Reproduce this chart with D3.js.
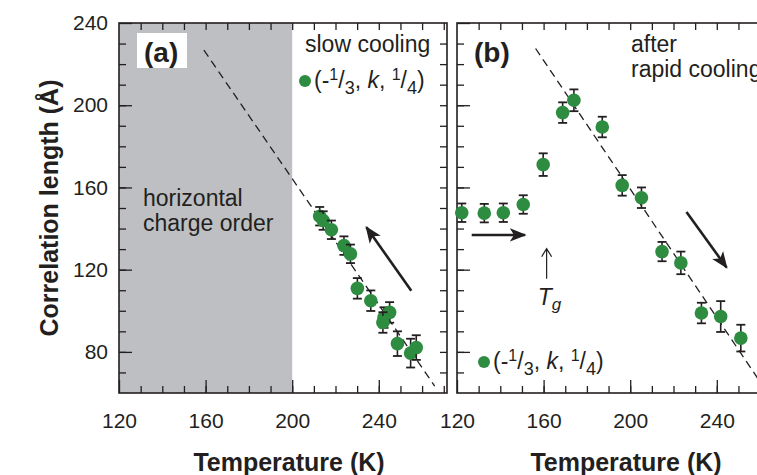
<!DOCTYPE html>
<html>
<head>
<meta charset="utf-8">
<script src="https://cdn.jsdelivr.net/npm/d3@7"></script>
<style>
  body { margin: 0; background: #fff; }
  svg text { font-family: "Liberation Sans", Arial, sans-serif; fill: #231f20; }
</style>
</head>
<body>
<div class="chart"></div>
<script>
var width = 757,
    height = 475;

// panel (a): slow cooling
var tempA = [212.7, 214.3, 218.1, 223.9, 226.9, 230.1, 236.3, 242.4, 245.0, 241.9, 248.6, 254.7, 257.3];
var xiA   = [146.0, 143.9, 139.4, 131.7, 127.7, 110.9, 104.9, 96.7, 99.2, 94.3, 84.0, 79.4, 82.1];
var errA  = [4.5, 4.5, 4.5, 4.5, 4.5, 5, 5, 5, 5, 5, 6, 7, 6];
var fitA  = [[159.2, 226.8], [265.8, 63.4]];
var arrowA = [[255.0, 109.8], [234.3, 140.6]];

// panel (b): after rapid cooling
var tempB = [122.2, 132.6, 141.4, 150.6, 159.8, 168.8, 174.0, 187.1, 196.3, 205.2, 214.7, 223.4, 232.9, 241.8, 251.1];
var xiB   = [147.7, 147.5, 147.7, 151.7, 171.1, 196.4, 202.4, 189.4, 161.0, 155.0, 128.8, 123.3, 98.9, 97.2, 86.7];
var errB  = [4.5, 4.5, 4.5, 4.5, 5.5, 5, 5.3, 5, 5, 5, 4.7, 5.5, 5, 7.5, 6.5];
var fitB  = [[156.3, 227.6], [262.0, 62.3]];
var arrowsB = [[[126.8, 136.9], [151.4, 136.9]], [[226.0, 148.0], [244.5, 121.1]]];
var tgArrow = [[161.4, 115.6], [161.4, 130.2]];

var xTicks = [120, 160, 200, 240];
var yTicks = [80, 120, 160, 200, 240];
var xDomain = [120, 271.5];
var yDomain = [60, 240];

var ink = "#231f20",
    green = "#2d8c40";

var svg = d3.select(".chart").append("svg")
    .attr("width", width)
    .attr("height", height);

var yTop = 23, yBottom = 393;
var y = d3.scaleLinear().domain(yDomain).range([yBottom, yTop]);

svg.append("defs").append("marker")
    .attr("id", "head")
    .attr("viewBox", "0 0 10 10")
    .attr("refX", 9).attr("refY", 5)
    .attr("markerWidth", 6.5).attr("markerHeight", 6.5)
    .attr("markerUnits", "strokeWidth")
    .attr("orient", "auto")
  .append("path")
    .attr("d", "M0,1 L10,5 L0,9 L2.5,5 Z")
    .attr("fill", ink);

function legendText(g, tx, ty) {
  var t = g.append("text").attr("x", tx).attr("y", ty).style("font-size", "23px");
  t.append("tspan").text("(-");
  t.append("tspan").attr("dy", -8).style("font-size", "16px").text("1");
  t.append("tspan").attr("dy", 8).text("/");
  t.append("tspan").attr("dy", 6).style("font-size", "18px").text("3");
  t.append("tspan").attr("dy", -6).text(", ");
  t.append("tspan").style("font-style", "italic").text("k");
  t.append("tspan").text(", ");
  t.append("tspan").attr("dy", -8).style("font-size", "16px").text("1");
  t.append("tspan").attr("dy", 8).text("/");
  t.append("tspan").attr("dy", 6).style("font-size", "18px").text("4");
  t.append("tspan").attr("dy", -6).text(")");
}

function panel(left, right, temps, xis, errs, fit, showY) {
  var x = d3.scaleLinear().domain(xDomain).range([left, right]);
  var g = svg.append("g");
  var minorX = d3.range(130, 271, 10),
      minorY = d3.range(70, 240, 10);

  // axes, ticks pointing inward
  g.append("g")
      .attr("transform", "translate(0," + yBottom + ")")
      .call(d3.axisBottom(x).tickValues(minorX).tickSize(-7).tickFormat(""));
  g.append("g")
      .attr("transform", "translate(0," + yBottom + ")")
      .call(d3.axisBottom(x).tickValues(xTicks).tickSize(-13).tickPadding(20));
  g.append("g")
      .attr("transform", "translate(0," + yTop + ")")
      .call(d3.axisTop(x).tickValues(minorX).tickSize(-7).tickFormat(""));
  g.append("g")
      .attr("transform", "translate(" + left + ",0)")
      .call(d3.axisLeft(y).tickValues(minorY).tickSize(-7).tickFormat(""));
  var ly = g.append("g")
      .attr("transform", "translate(" + left + ",0)")
      .call(d3.axisLeft(y).tickValues(yTicks).tickSize(-13).tickPadding(11));
  if (!showY) ly.selectAll("text").remove();
  g.append("g")
      .attr("transform", "translate(" + right + ",0)")
      .call(d3.axisRight(y).tickValues(minorY).tickSize(-7).tickFormat(""));

  g.selectAll(".domain").remove();
  g.selectAll(".tick line").attr("stroke", ink).attr("stroke-width", 1.3);
  g.selectAll(".tick text").style("font-size", "21px").attr("fill", ink);

  g.append("rect")
      .attr("x", left).attr("y", yTop)
      .attr("width", right - left).attr("height", yBottom - yTop)
      .attr("fill", "none").attr("stroke", ink).attr("stroke-width", 1.6);

  // linear guide
  g.append("line")
      .attr("x1", x(fit[0][0])).attr("y1", y(fit[0][1]))
      .attr("x2", x(fit[1][0])).attr("y2", y(fit[1][1]))
      .attr("stroke", ink).attr("stroke-width", 1.3)
      .attr("stroke-dasharray", "8,5");

  var pts = g.selectAll(".pt")
      .data(temps.map(function(t, i) { return {t: t, v: xis[i], e: errs[i]}; }))
      .enter().append("g").attr("class", "pt");
  pts.append("line")
      .attr("x1", function(d) { return x(d.t); }).attr("x2", function(d) { return x(d.t); })
      .attr("y1", function(d) { return y(d.v - d.e); }).attr("y2", function(d) { return y(d.v + d.e); })
      .attr("stroke", ink).attr("stroke-width", 1.6);
  [-1, 1].forEach(function(s) {
    pts.append("line")
        .attr("x1", function(d) { return x(d.t) - 4.5; }).attr("x2", function(d) { return x(d.t) + 4.5; })
        .attr("y1", function(d) { return y(d.v + s * d.e); }).attr("y2", function(d) { return y(d.v + s * d.e); })
        .attr("stroke", ink).attr("stroke-width", 1.8);
  });
  pts.append("circle")
      .attr("cx", function(d) { return x(d.t); })
      .attr("cy", function(d) { return y(d.v); })
      .attr("r", 6.8)
      .attr("fill", green);

  return {g: g, x: x};
}

// shaded region below 200 K goes under panel (a)
var xa0 = d3.scaleLinear().domain(xDomain).range([119, 447]);
svg.append("rect")
    .attr("x", xa0(120)).attr("y", yTop)
    .attr("width", xa0(200) - xa0(120)).attr("height", yBottom - yTop)
    .attr("fill", "#bdbfc2");

var pa = panel(119, 447, tempA, xiA, errA, fitA, true);
var pb = panel(457, 785, tempB, xiB, errB, fitB, false);

function arrow(p, a, w) {
  p.g.append("line")
      .attr("x1", p.x(a[0][0])).attr("y1", y(a[0][1]))
      .attr("x2", p.x(a[1][0])).attr("y2", y(a[1][1]))
      .attr("stroke", ink).attr("stroke-width", w)
      .attr("marker-end", "url(#head)");
}
arrow(pa, arrowA, 2.6);
arrowsB.forEach(function(a) { arrow(pb, a, 2.6); });

// T_g marker: thin open arrow
var tx = pb.x(tgArrow[0][0]);
pb.g.append("path")
    .attr("d", "M" + tx + "," + y(tgArrow[0][1]) + "L" + tx + "," + y(tgArrow[1][1]) +
          "M" + (tx - 5) + "," + (y(tgArrow[1][1]) + 8) + "L" + tx + "," + y(tgArrow[1][1]) +
          "L" + (tx + 5) + "," + (y(tgArrow[1][1]) + 8))
    .attr("fill", "none").attr("stroke", ink).attr("stroke-width", 1.2);
var tg = pb.g.append("text").attr("x", tx - 9).attr("y", 305).style("font-size", "23px").style("font-style", "italic");
tg.append("tspan").text("T");
tg.append("tspan").attr("dy", 5).style("font-size", "17px").text("g");

// panel labels
svg.append("rect").attr("x", 137).attr("y", 33).attr("width", 50).attr("height", 35).attr("fill", "#fff");
svg.append("text").attr("x", 144).attr("y", 62).style("font-size", "28px").style("font-weight", "bold").text("(a)");
svg.append("text").attr("x", 474).attr("y", 62).style("font-size", "28px").style("font-weight", "bold").text("(b)");

svg.append("text").attr("x", 305).attr("y", 52).style("font-size", "23px").text("slow cooling");
svg.append("circle").attr("cx", 305).attr("cy", 81).attr("r", 6).attr("fill", green);
legendText(svg, 314, 88);

svg.append("text").attr("x", 143).attr("y", 206).style("font-size", "23px").text("horizontal");
svg.append("text").attr("x", 143).attr("y", 231).style("font-size", "23px").text("charge order");

svg.append("text").attr("x", 631).attr("y", 52).style("font-size", "23px").text("after");
svg.append("text").attr("x", 631).attr("y", 77).style("font-size", "23px").text("rapid cooling");
svg.append("circle").attr("cx", 484).attr("cy", 362).attr("r", 6).attr("fill", green);
legendText(svg, 493, 369);

// axis titles
svg.append("text")
    .attr("transform", "translate(58," + ((yTop + yBottom) / 2) + ") rotate(-90)")
    .attr("text-anchor", "middle")
    .style("font-size", "25px").style("font-weight", "bold")
    .text("Correlation length (Å)");
[289, 626].forEach(function(cx) {
  svg.append("text")
      .attr("x", cx)
      .attr("y", 471)
      .attr("text-anchor", "middle")
      .style("font-size", "25px").style("font-weight", "bold")
      .text("Temperature (K)");
});
</script>
</body>
</html>
